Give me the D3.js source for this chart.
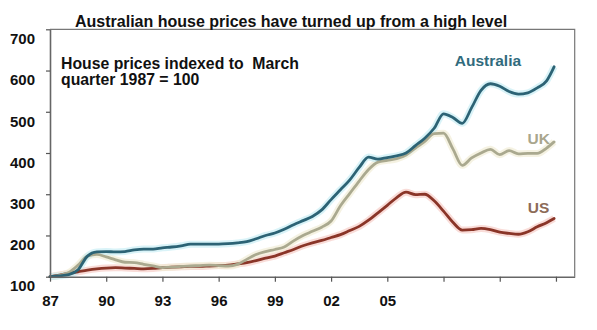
<!DOCTYPE html>
<html>
<head>
<meta charset="utf-8">
<script src="https://cdn.jsdelivr.net/npm/d3@7"></script>
<style>
  html, body { margin: 0; padding: 0; background: #ffffff; }
  svg { display: block; }
  text { font-family: "Liberation Sans", Arial, Helvetica, sans-serif; }
</style>
</head>
<body>
<svg id="chart" width="597" height="330"></svg>
<script>
// ---- data (index, March quarter 1987 = 100) ----
const years = [
  1987.0, 1987.5, 1988.0, 1988.5, 1989.0, 1989.5, 1990.0, 1990.5, 1991.0, 1991.5,
  1992.0, 1992.5, 1993.0, 1993.5, 1994.0, 1994.5, 1995.0, 1995.5, 1996.0, 1996.5,
  1997.0, 1997.5, 1998.0, 1998.5, 1999.0, 1999.5, 2000.0, 2000.5, 2001.0, 2001.5,
  2002.0, 2002.5, 2003.0, 2003.5, 2004.0, 2004.5, 2005.0, 2005.5, 2006.0, 2006.5,
  2007.0, 2007.5, 2008.0, 2008.5, 2009.0, 2009.5, 2010.0, 2010.5, 2011.0, 2011.5,
  2012.0, 2012.5, 2013.0, 2013.5, 2013.9
];
const australia = [
  100, 102, 105, 117, 150, 160, 161, 160, 161, 165,
  167, 167, 170, 172, 175, 179, 179, 179, 179, 180,
  182, 185, 192, 200, 206, 215, 226, 236, 246, 262,
  287, 311, 335, 365, 390, 385, 389, 393, 400, 418,
  436, 460, 495, 486, 472, 510, 552, 568, 562, 549,
  543, 546, 558, 575, 609
];
const uk = [
  100, 103, 110, 128, 150, 154, 148, 141, 135, 134,
  130, 126, 122, 123, 125, 126, 127, 128, 127, 126,
  130, 142, 154, 161, 166, 172, 187, 200, 210, 220,
  235, 272, 302, 332, 360, 378, 382, 386, 395, 412,
  428, 447, 448, 410, 370, 388, 400, 409, 396, 406,
  398, 399, 399, 412, 427
];
const us = [
  100, 104, 108, 112, 116, 119, 121, 122, 121, 120,
  119, 120, 122, 123, 124, 125, 125, 126, 127, 128,
  131, 134, 139, 145, 150, 158, 166, 175, 182, 188,
  195, 202, 212, 222, 237, 255, 273, 292, 305, 299,
  300, 284, 259, 232, 213, 214, 217, 214, 208, 205,
  203, 209, 221, 231, 241
];
const seriesNames = ["Australia", "UK", "US"];
const xTickYears = [1987, 1990, 1993, 1996, 1999, 2002, 2005, 2008, 2011, 2014];
const xTickLabels = ["87", "90", "93", "96", "99", "02", "05", "", "", ""];
const yTicks = [100, 200, 300, 400, 500, 600, 700];
const titleText = "Australian house prices have turned up from a high level";
const noteLines = ["House prices indexed to  March", "quarter 1987 = 100"];

// ---- layout ----
const svg = d3.select("#chart");
const x = d3.scaleLinear().domain([1987, 2015]).range([50, 574.7]);
const y = d3.scaleLinear().domain([100, 700]).range([276.7, 29.3]);

const colors = { Australia: "#2c6375", UK: "#aaa98f", US: "#8a3528" };
const glow = { Australia: "#c9eef5", UK: "#f1ecd6", US: "#f6cdc8" };
const labelColors = { Australia: "#316b7d", UK: "#a9a68d", US: "#8c6b58" };

// frame (top and right)
svg.append("path")
  .attr("d", `M${x(1987)},${y(700)}H${x(2015)}V${y(100)}`)
  .attr("fill", "none").attr("stroke", "#777").attr("stroke-width", 1.2);

// lines
const series = [
  { name: "Australia", values: australia },
  { name: "UK", values: uk },
  { name: "US", values: us }
];
const line = d3.line()
  .x((d, i) => x(years[i]))
  .y(d => y(d))
  .curve(d3.curveMonotoneX);

const gLines = svg.append("g");
[series[2], series[1], series[0]].forEach(s => {
  gLines.append("path")
    .datum(s.values)
    .attr("d", line)
    .attr("fill", "none")
    .attr("stroke", glow[s.name])
    .attr("stroke-width", 7)
    .attr("stroke-opacity", 0.7)
    .attr("stroke-linejoin", "round");
});
[series[2], series[1], series[0]].forEach(s => {
  gLines.append("path")
    .datum(s.values)
    .attr("d", line)
    .attr("fill", "none")
    .attr("stroke", colors[s.name])
    .attr("stroke-width", 2.8)
    .attr("stroke-linejoin", "round")
    .attr("stroke-linecap", "round");
});

// x axis
const xAxis = d3.axisBottom(x)
  .tickValues(xTickYears)
  .tickSize(5)
  .tickSizeOuter(0)
  .tickFormat((d, i) => xTickLabels[i]);
const gx = svg.append("g")
  .attr("transform", `translate(0,${y(100)})`)
  .call(xAxis);
gx.select(".domain").attr("stroke", "#666").attr("stroke-width", 1.6);
gx.selectAll(".tick line").attr("stroke", "#555").attr("stroke-width", 1.2);
gx.selectAll(".tick text")
  .attr("y", 19)
  .attr("dy", "0.71em")
  .attr("fill", "#111")
  .style("font-size", "15px")
  .style("font-weight", "bold");

// y axis
const yAxis = d3.axisLeft(y)
  .tickValues(yTicks)
  .tickSize(4)
  .tickSizeOuter(0)
  .tickFormat(d3.format("d"));
const gy = svg.append("g")
  .attr("transform", `translate(${x(1987)},0)`)
  .call(yAxis);
gy.select(".domain").attr("stroke", "#666").attr("stroke-width", 1.6);
gy.selectAll(".tick line").attr("stroke", "#555").attr("stroke-width", 1.2);
gy.selectAll(".tick text")
  .attr("x", -15)
  .attr("dy", "0.95em")
  .attr("fill", "#111")
  .style("font-size", "15px")
  .style("font-weight", "bold");

// title
svg.append("text")
  .attr("x", 75).attr("y", 26.5)
  .attr("fill", "#111")
  .style("font-size", "16px")
  .style("font-weight", "bold")
  .text(titleText);

// note
noteLines.forEach((t, i) => {
  svg.append("text")
    .attr("x", 61).attr("y", 68.5 + i * 16.5)
    .attr("fill", "#111")
    .style("font-size", "15.8px")
    .style("font-weight", "bold")
    .style("white-space", "pre")
    .attr("xml:space", "preserve")
    .text(t);
});

// series labels
const labelPos = {
  Australia: { yr: 2010.37, v: 611 },
  UK: { yr: 2013.68, v: 422 },
  US: { yr: 2013.65, v: 255 }
};
seriesNames.forEach(n => {
  svg.append("text")
    .attr("x", x(labelPos[n].yr))
    .attr("y", y(labelPos[n].v))
    .attr("text-anchor", n === "Australia" ? "middle" : "end")
    .attr("fill", labelColors[n])
    .style("font-size", "15.5px")
    .style("font-weight", "bold")
    .text(n);
});
</script>
</body>
</html>
